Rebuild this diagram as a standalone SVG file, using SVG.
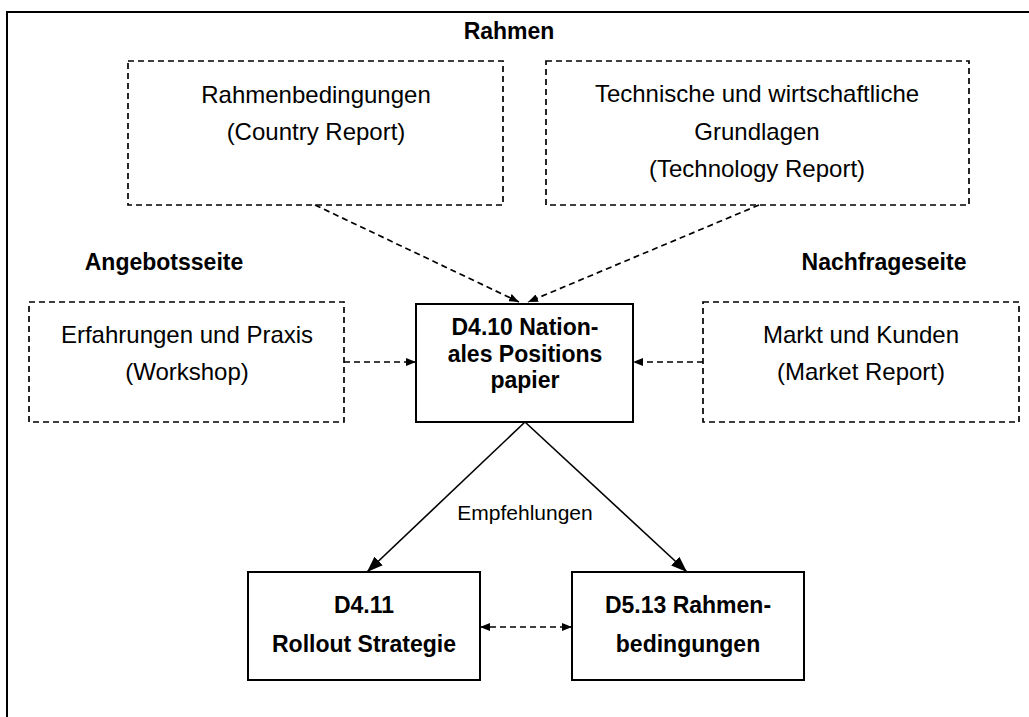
<svg xmlns="http://www.w3.org/2000/svg" width="1029" height="717" viewBox="0 0 1029 717">
<style>
  .t { font-family: "Liberation Sans", Arial, sans-serif; font-size: 24px; fill: #000; text-anchor: middle; }
  .b { font-weight: bold; font-size: 23px; }
  .dash { fill: none; stroke: #000; stroke-width: 1.7; stroke-dasharray: 6 4; }
  .solid { fill: #fff; stroke: #000; stroke-width: 2; }
  .cd { fill: none; stroke: #000; stroke-width: 1.7; stroke-dasharray: 6 4; }
  .cs { fill: none; stroke: #000; stroke-width: 1.6; }
</style>
<defs>
  <marker id="ah" markerUnits="userSpaceOnUse" markerWidth="10" markerHeight="8" refX="10" refY="4" orient="auto">
    <path d="M0,0 L10,4 L0,8 z" fill="#000"/>
  </marker>
  <marker id="ahs" markerUnits="userSpaceOnUse" markerWidth="10" markerHeight="8" refX="0" refY="4" orient="auto">
    <path d="M10,0 L0,4 L10,8 z" fill="#000"/>
  </marker>
  <marker id="big" markerUnits="userSpaceOnUse" markerWidth="16" markerHeight="12" refX="16" refY="6" orient="auto">
    <path d="M0,0 L16,6 L0,12 z" fill="#000"/>
  </marker>
</defs>
<rect width="1029" height="717" fill="#fff"/>
<path d="M7,717 V12 H1029" fill="none" stroke="#000" stroke-width="2"/>

<g id="label-rahmen"><text class="t b" x="509" y="39">Rahmen</text></g>
<g id="label-angebot"><text class="t b" x="164" y="270">Angebotsseite</text></g>
<g id="label-nachfrage"><text class="t b" x="884" y="270">Nachfrageseite</text></g>

<g id="connectors">
  <line class="cd" x1="315" y1="205" x2="519" y2="302" marker-end="url(#ah)"/>
  <line class="cd" x1="759" y1="205" x2="528" y2="302" marker-end="url(#ah)"/>
  <line class="cd" x1="344" y1="362" x2="416" y2="362" marker-end="url(#ah)"/>
  <line class="cd" x1="703" y1="362" x2="633" y2="362" marker-end="url(#ah)"/>
  <line class="cs" x1="525" y1="422" x2="367" y2="572" marker-end="url(#big)"/>
  <line class="cs" x1="525" y1="422" x2="687" y2="572" marker-end="url(#big)"/>
  <line class="cd" x1="480" y1="627" x2="572" y2="627" marker-start="url(#ahs)" marker-end="url(#ah)"/>
  <text class="t" style="font-size:21px" x="525" y="520">Empfehlungen</text>
</g>

<g id="node-country">
  <rect class="dash" x="128" y="61" width="375" height="144"/>
  <text class="t" x="316" y="103">Rahmenbedingungen</text>
  <text class="t" x="316" y="140">(Country Report)</text>
</g>
<g id="node-technology">
  <rect class="dash" x="546" y="61" width="423" height="144"/>
  <text class="t" x="757" y="102">Technische und wirtschaftliche</text>
  <text class="t" x="757" y="140">Grundlagen</text>
  <text class="t" x="757" y="177">(Technology Report)</text>
</g>
<g id="node-workshop">
  <rect class="dash" x="29" y="302" width="315" height="120"/>
  <text class="t" x="187" y="343">Erfahrungen und Praxis</text>
  <text class="t" x="187" y="380">(Workshop)</text>
</g>
<g id="node-market">
  <rect class="dash" x="703" y="302" width="316" height="120"/>
  <text class="t" x="861" y="343">Markt und Kunden</text>
  <text class="t" x="861" y="380">(Market Report)</text>
</g>
<g id="node-d410">
  <rect class="solid" x="416" y="304" width="217" height="118"/>
  <text class="t b" x="525" y="335">D4.10 Nation-</text>
  <text class="t b" x="525" y="362">ales Positions</text>
  <text class="t b" x="525" y="388">papier</text>
</g>
<g id="node-d411">
  <rect class="solid" x="248" y="572" width="232" height="108"/>
  <text class="t b" x="364" y="613">D4.11</text>
  <text class="t b" x="364" y="652">Rollout Strategie</text>
</g>
<g id="node-d513">
  <rect class="solid" x="572" y="572" width="232" height="108"/>
  <text class="t b" x="688" y="613">D5.13 Rahmen-</text>
  <text class="t b" x="688" y="652">bedingungen</text>
</g>
</svg>
